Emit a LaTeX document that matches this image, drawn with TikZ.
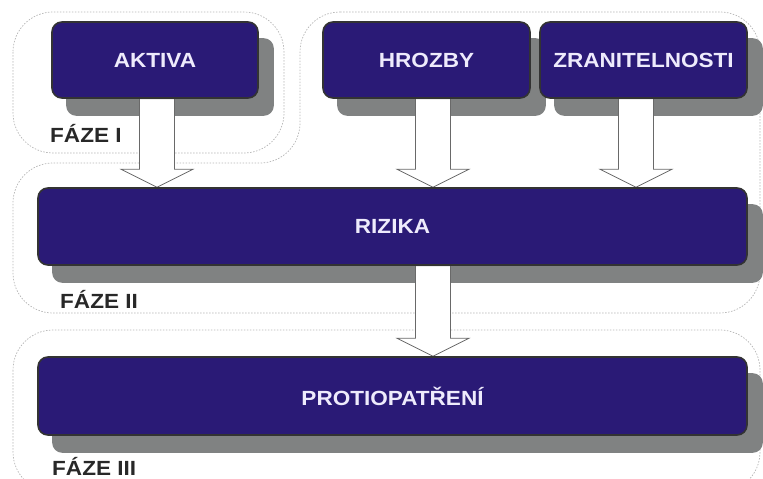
\documentclass[tikz,border=0pt]{standalone}
\usepackage{fontspec}
\setmainfont[FakeStretch=1.1]{Liberation Sans}
\usetikzlibrary{calc,backgrounds}
\definecolor{boxfill}{RGB}{42,26,118}
\definecolor{boxtext}{RGB}{238,235,252}
\definecolor{shadowc}{RGB}{128,130,130}
\definecolor{labelc}{RGB}{40,40,40}
\definecolor{arrowc}{RGB}{105,105,105}
\definecolor{phasec}{RGB}{180,180,180}
\tikzset{
 box/.style={draw=black!80, line width=1.6pt, fill=boxfill, rounded corners=10pt, text=boxtext,
   font=\fontsize{20.5}{24}\selectfont\bfseries, inner sep=0pt, minimum height=76pt},
 shadowbox/.style={fill=shadowc, rounded corners=10pt},
 phase/.style={draw=phasec, line width=0.7pt, dash pattern=on 1.5pt off 1.5pt, rounded corners=40pt},
 phaselabel/.style={anchor=base west, text=labelc, font=\fontsize{20.5}{24}\selectfont\bfseries, inner sep=0pt},
 blockarrow/.style={to path={let \p1=(\tikztostart), \p2=(\tikztotarget) in
   (\x1-17.5pt,\y1) -- (\x1-17.5pt,\y2+18pt) -- (\x1-36pt,\y2+18pt) -- (\x1,\y2)
   -- (\x1+36pt,\y2+18pt) -- (\x1+17.5pt,\y2+18pt) -- (\x1+17.5pt,\y1) -- cycle}},
 arrowshape/.style={draw=arrowc, fill=white, line width=0.8pt, line join=miter},
}
\begin{document}
\begin{tikzpicture}[x=1pt,y=-1pt]
\useasboundingbox (0,0) rectangle (763,479);
% boxes
\node[box, minimum width=206pt] (aktiva) at (155,60) {AKTIVA};
\node[box, minimum width=207pt] (hrozby) at (426.5,60) {HROZBY};
\node[box, minimum width=207pt] (zran) at (643.5,60) {ZRANITELNOSTI};
\node[box, minimum width=709pt, minimum height=77pt] (rizika) at (392.5,226.5) {RIZIKA};
\node[box, minimum width=709pt, minimum height=78pt] (prot) at (392.5,396) {PROTIOPATŘENÍ};
% phase labels
\node[phaselabel] (f1) at (50,142) {FÁZE I};
\node[phaselabel] (f2) at (60,308) {FÁZE II};
\node[phaselabel] (f3) at (52,475) {FÁZE III};
% arrow axes
\coordinate (c1) at (157,0);
\coordinate (c2) at (433,0);
\coordinate (c3) at (636,0);
\coordinate (c4) at (433,0);
\begin{scope}[on background layer]
  % phase outlines
  \draw[phase] (13,12) rectangle (284,153);
  \draw[phase] (300,12) -- (760,12) -- (760,313) -- (13,313) -- (13,163) -- (300,163) -- cycle;
  \draw[phase] (13,330) rectangle (760,492);
  % shadows
  \foreach \n in {aktiva,hrozby,zran,rizika,prot}
    \fill[shadowbox] ([shift={(15,17)}]\n.south west) rectangle ([shift={(15,17)}]\n.north east);
  % arrows
  \draw[arrowshape] (aktiva.south -| c1) to[blockarrow] (rizika.north -| c1);
  \draw[arrowshape] (hrozby.south -| c2) to[blockarrow] (rizika.north -| c2);
  \draw[arrowshape] (zran.south -| c3) to[blockarrow] (rizika.north -| c3);
  \draw[arrowshape] (rizika.south -| c4) to[blockarrow] (prot.north -| c4);
\end{scope}
\end{tikzpicture}
\end{document}
